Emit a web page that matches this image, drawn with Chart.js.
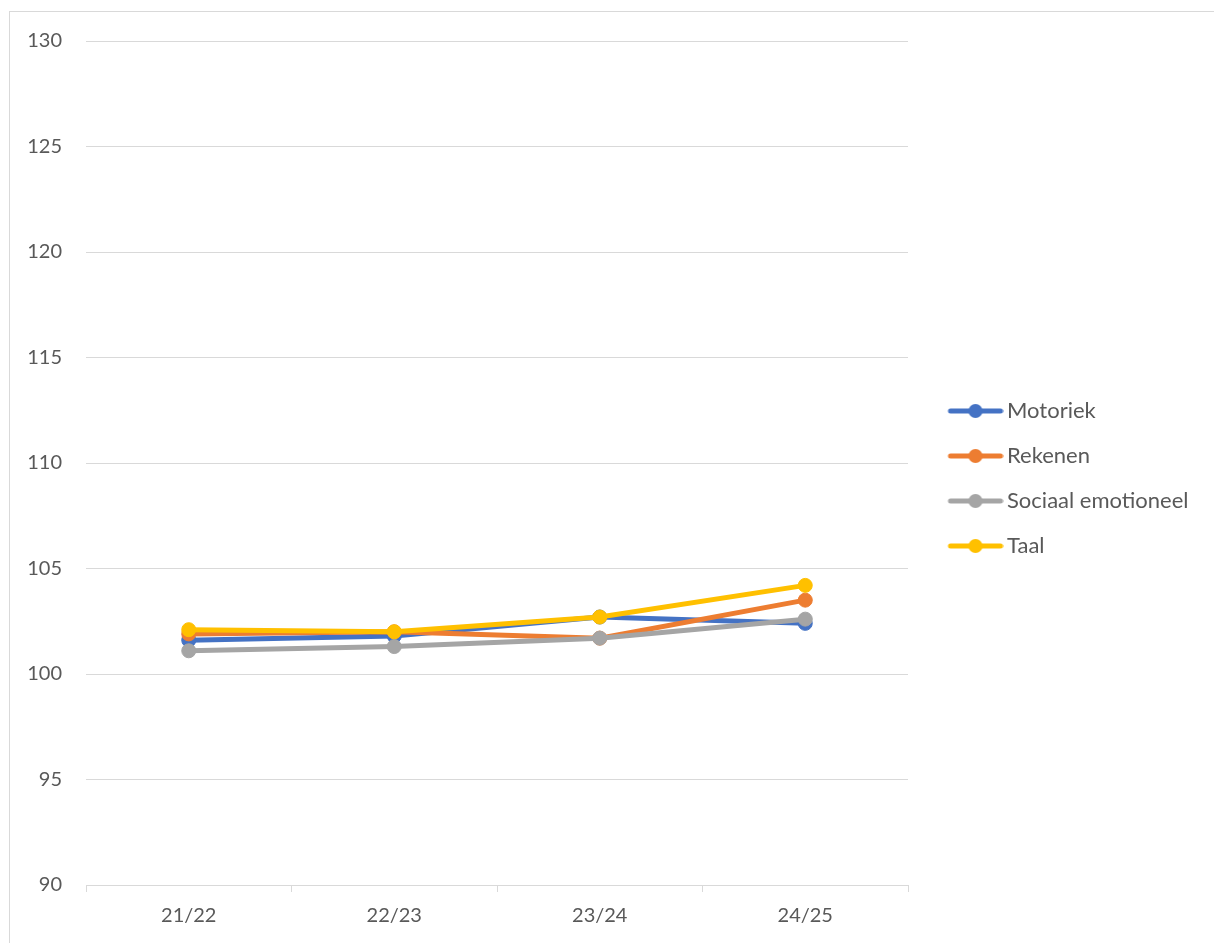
<!DOCTYPE html>
<html>
<head>
<meta charset="utf-8">
<script src="https://cdn.jsdelivr.net/npm/chart.js@4.4.0/dist/chart.umd.min.js"></script>
<style>
  html, body { margin: 0; padding: 0; background: #fff; }
  #wrap { width: 1214px; height: 943px; }
</style>
</head>
<body>
<div id="wrap"><canvas id="lineChart" width="1214" height="943"></canvas></div>
<script>
const seasons = ['21/22', '22/23', '23/24', '24/25'];
const motoriek = [101.6, 101.8, 102.7, 102.4];
const rekenen = [101.9, 102.0, 101.7, 103.5];
const sociaal = [101.1, 101.3, 101.7, 102.6];
const taal = [102.1, 102.0, 102.7, 104.2];
const seriesNames = ['Motoriek', 'Rekenen', 'Sociaal emotioneel', 'Taal'];
const seriesColors = ['#4472C4', '#ED7D31', '#A5A5A5', '#FFC000'];
const yMin = 90, yMax = 130, yStep = 5;

const FONT = 'Lato';
const FS = 20;      // axis labels
const LFS = 22;     // legend labels
const TEXT = '#595959';
const GRID = '#d9d9d9';

// legend swatch: short line with a dot, drawn in the right part of a wider canvas
function swatch(color) {
    const c = document.createElement('canvas');
    c.width = 80; c.height = 16;
    const g = c.getContext('2d');
    g.strokeStyle = color;
    g.lineWidth = 5;
    g.lineCap = 'round';
    g.beginPath(); g.moveTo(27, 8); g.lineTo(77, 8); g.stroke();
    g.fillStyle = color;
    g.beginPath(); g.arc(52, 8, 7, 0, Math.PI * 2); g.fill();
    return c;
}
const swatches = seriesColors.map(swatch);

// legend width so that the plot area ends at x=908
const mctx = document.createElement('canvas').getContext('2d');
mctx.font = `${LFS}px ${FONT}`;
const maxText = Math.max(...seriesNames.map(n => mctx.measureText(n).width));
const BOXW = 65, LPAD = 23;
const legendWidth = LPAD + (BOXW + LFS / 2 + maxText) + 10;
const padRight = Math.max(0, 1214 - 908 - legendWidth);

const values = [motoriek, rekenen, sociaal, taal];

Chart.register({
    id: 'frame',
    beforeDraw(chart) {
        const { ctx } = chart;
        ctx.save();
        ctx.fillStyle = '#fff';
        ctx.fillRect(0, 0, chart.width, chart.height);
        ctx.strokeStyle = GRID;
        ctx.lineWidth = 1;
        ctx.strokeRect(9.5, 11.5, 1400, 1200);
        ctx.restore();
    }
});

new Chart(document.getElementById('lineChart'), {
    type: 'line',
    data: {
        labels: seasons,
        datasets: values.map((v, i) => ({
            label: seriesNames[i],
            data: v,
            borderColor: seriesColors[i],
            backgroundColor: seriesColors[i],
            pointBackgroundColor: seriesColors[i],
            pointBorderColor: seriesColors[i],
            borderWidth: 5,
            pointRadius: 7,
            pointBorderWidth: 1,
            tension: 0,
            order: 4 - i
        }))
    },
    options: {
        responsive: false,
        animation: false,
        layout: { padding: { left: 0, top: 14, right: padRight, bottom: 0 } },
        plugins: {
            tooltip: { enabled: false },
            legend: {
                position: 'right',
                align: 'center',
                labels: {
                    usePointStyle: true,
                    pointStyleWidth: BOXW,
                    padding: LPAD,
                    color: TEXT,
                    font: { family: FONT, size: LFS },
                    generateLabels: () => seriesNames.map((n, i) => ({
                        text: n,
                        pointStyle: swatches[i],
                        fillStyle: seriesColors[i],
                        strokeStyle: seriesColors[i],
                        lineWidth: 0,
                        fontColor: TEXT,
                        hidden: false,
                        datasetIndex: i
                    }))
                }
            }
        },
        scales: {
            x: {
                offset: true,
                grid: { offset: true, drawOnChartArea: false, drawTicks: true, tickLength: 7, color: GRID },
                border: { display: true, color: GRID },
                ticks: { color: TEXT, font: { family: FONT, size: FS }, padding: 12 },
                afterFit: s => { s.height = 58; }
            },
            top: {
                type: 'category',
                position: 'top',
                display: true,
                grid: { display: false, drawTicks: false },
                border: { display: false },
                ticks: { display: false },
                afterFit: s => { s.height = 27; }
            },
            y: {
                min: yMin,
                max: yMax,
                grid: { color: GRID, drawTicks: false },
                border: { display: false },
                ticks: { stepSize: yStep, color: TEXT, font: { family: FONT, size: FS }, padding: 24 },
                afterFit: s => { s.width = 86; }
            }
        }
    }
});
</script>
</body>
</html>
